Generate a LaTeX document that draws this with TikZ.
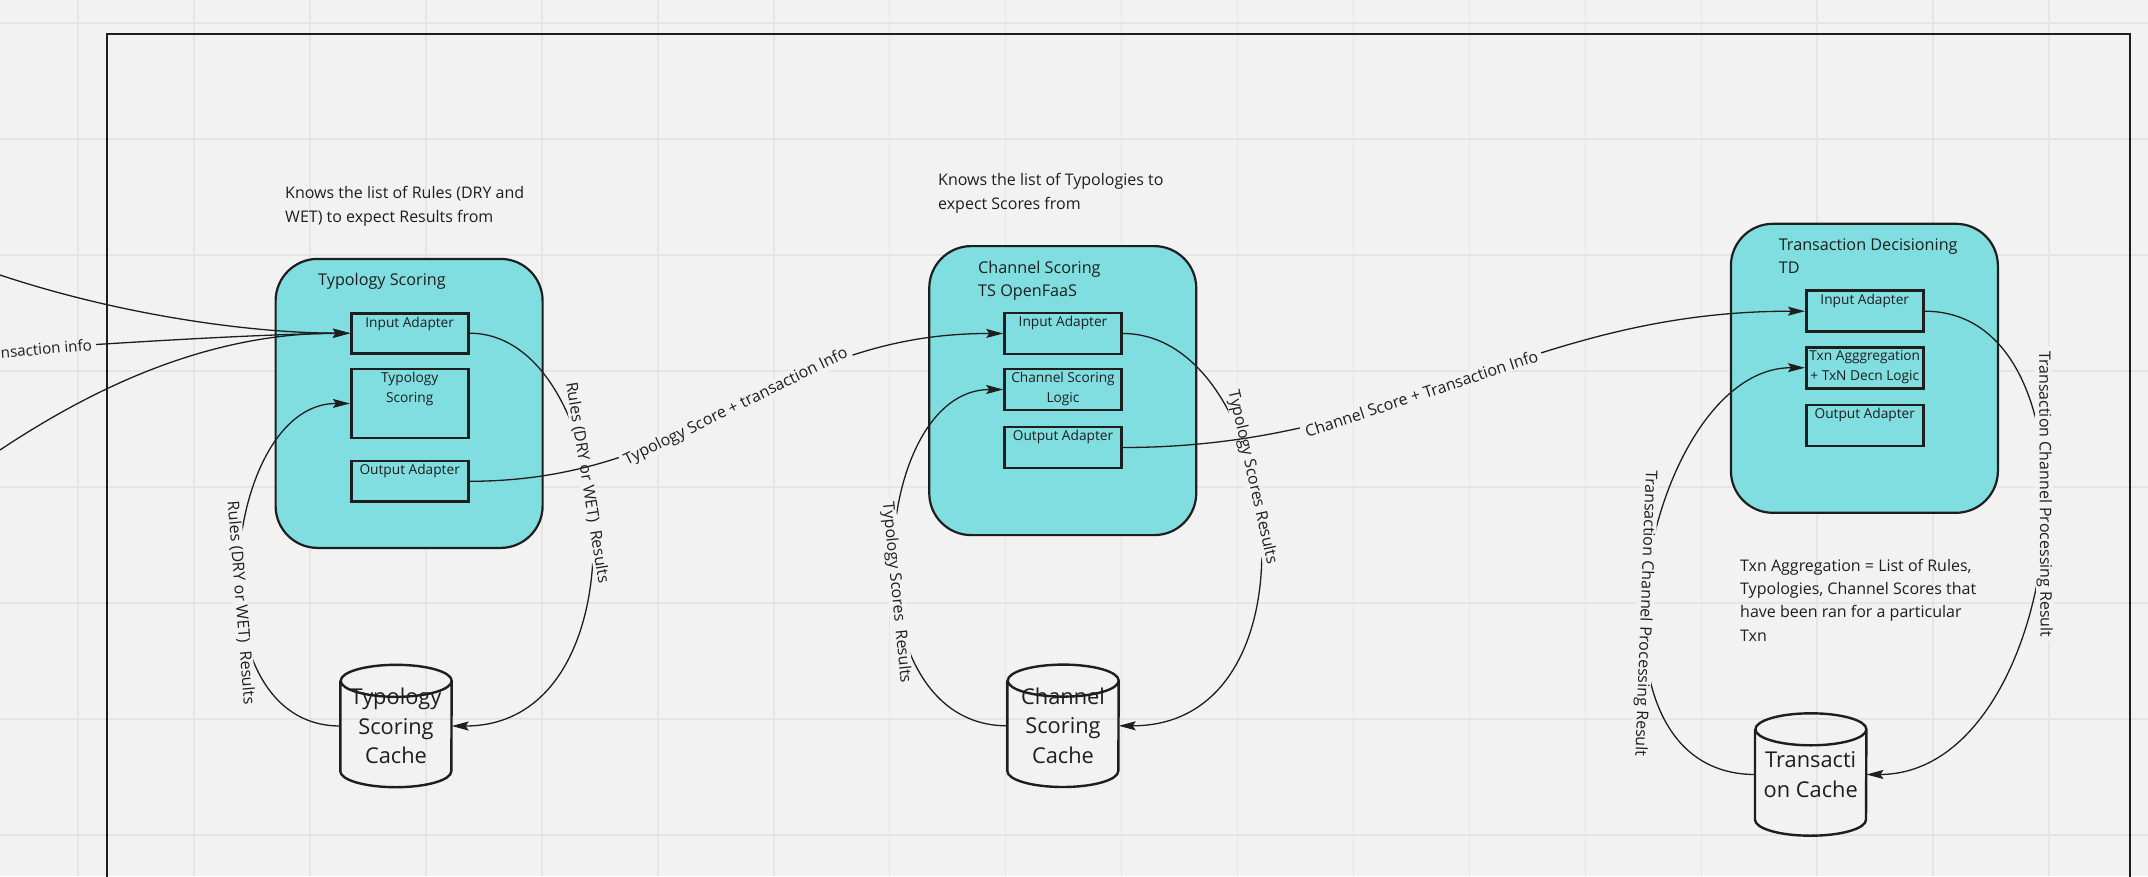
\documentclass[tikz,border=0pt]{standalone}
\usepackage{fontspec}
\setmainfont{Open Sans}
\usetikzlibrary{arrows.meta,calc}
\definecolor{bgcol}{RGB}{242,242,242}
\definecolor{gridcol}{RGB}{229,229,229}
\definecolor{boxfill}{RGB}{128,222,224}
\definecolor{ink}{RGB}{30,30,30}
\begin{document}
\begin{tikzpicture}[x=1pt,y=-1pt,
  bigbox/.style={draw=ink, line width=2.2pt, fill=boxfill, rounded corners=42pt, minimum width=267pt, minimum height=289pt, inner sep=0pt},
  inbox/.style={draw=ink, line width=2.6pt, minimum width=117pt, inner sep=0pt},
  intext/.style={font=\fontsize{13.7}{19.5}\selectfont, text=ink, align=center, inner sep=0pt, anchor=north},
  titletext/.style={font=\fontsize{16.2}{23}\selectfont, text=ink, align=left, inner sep=0pt, anchor=north west},
  notetext/.style={font=\fontsize{16}{24}\selectfont, text=ink, align=left, inner sep=0pt, anchor=north west},
  cylbox/.style={minimum width=111pt, minimum height=122pt, inner sep=0pt, align=center, font=\fontsize{21.8}{29.5}\selectfont, text=ink},
  cylline/.style={draw=ink, line width=2.4pt},
  conn/.style={draw=ink, line width=1.3pt},
  arr/.style={conn, -{Stealth[length=17pt,width=9pt,inset=3pt]}},
  rarr/.style={conn, {Stealth[length=17pt,width=9pt,inset=3pt]}-},
  lbl/.style={font=\fontsize{16}{18}\selectfont, text=ink, fill=bgcol, inner xsep=4pt, inner ysep=0.5pt, sloped, allow upside down},
]
\useasboundingbox (0,0) rectangle (2148,876);
\clip (0,0) rectangle (2148,876);
\fill[bgcol] (0,0) rectangle (2148,876);
% grid
\foreach \i in {0,...,18} \draw[gridcol, line width=1.6pt] ({78+115.95*\i},0) -- ({78+115.95*\i},876);
\foreach \j in {0,...,7} \draw[gridcol, line width=1.6pt] (0,{23+116*\j}) -- (2148,{23+116*\j});
% frame
\draw[ink, line width=2.4pt] (107,34) rectangle (2130,920);

% notes
\node[notetext] (note1) at (285,186) {Knows the list of Rules (DRY and\\WET) to expect Results from};
\node[notetext] (note2) at (938,172.6) {Knows the list of Typologies to\\expect Scores from};
\node[notetext, font=\fontsize{16}{23.4}\selectfont] (note3) at (1740,558.6) {Txn Aggregation = List of Rules,\\Typologies, Channel Scores that\\have been ran for a particular\\Txn};

% big boxes
\node[bigbox] (ts) at (409.1,403.4) {};
\node[bigbox] (cs) at (1062.75,390.6) {};
\node[bigbox] (td) at (1864.4,368.3) {};
\node[titletext] (tst) at (318,272.8) {Typology Scoring};
\node[titletext] (cst) at (978,260.5) {Channel Scoring\\TS OpenFaaS};
\node[titletext] (tdt) at (1778.6,238.1) {Transaction Decisioning\\TD};

% inner boxes
\node[inbox, minimum height=40pt] (tsin) at (409.7,333.2) {};
\node[inbox, minimum height=69pt] (tsl) at (409.7,403.5) {};
\node[inbox, minimum height=40.7pt] (tsout) at (409.7,481.3) {};
\node[inbox, minimum height=41pt] (csin) at (1063,333.5) {};
\node[inbox, minimum height=41pt] (csl) at (1063,389.5) {};
\node[inbox, minimum height=41pt] (csout) at (1063,447.5) {};
\node[inbox, minimum height=41pt] (tdin) at (1864.75,311.2) {};
\node[inbox, minimum height=41pt] (tdl) at (1864.75,367.7) {};
\node[inbox, minimum height=41pt] (tdout) at (1864.75,425.3) {};
\node[intext] (tsint) at ([yshift=-4.5pt]tsin.north) {Input Adapter};
\node[intext] (tslt) at ([yshift=-4.5pt]tsl.north) {Typology\\Scoring};
\node[intext] (tsoutt) at ([yshift=-4.5pt]tsout.north) {Output Adapter};
\node[intext] (csint) at ([yshift=-4.5pt]csin.north) {Input Adapter};
\node[intext] (cslt) at ([yshift=-4.5pt]csl.north) {Channel Scoring\\Logic};
\node[intext] (csoutt) at ([yshift=-4.5pt]csout.north) {Output Adapter};
\node[intext] (tdint) at ([yshift=-4.5pt]tdin.north) {Input Adapter};
\node[intext] (tdlt) at ([yshift=-4.5pt]tdl.north) {Txn Agggregation\\+ TxN Decn Logic};
\node[intext] (tdoutt) at ([yshift=-4.5pt]tdout.north) {Output Adapter};

% caches
\node[cylbox] (tsc) at (396,726) {Typology\\Scoring\\Cache};
\node[cylbox] (csc) at (1063,725.8) {Channel\\Scoring\\Cache};
\node[cylbox] (tdc) at (1810.7,774.5) {Transacti\\on Cache};
\foreach \c in {tsc,csc,tdc}{
  \draw[cylline] ([yshift=-16pt]\c.north west) -- ([yshift=16pt]\c.south west)
     arc[start angle=180, end angle=360, x radius=55.5pt, y radius=16pt]
     -- ([yshift=-16pt]\c.north east)
     arc[start angle=0, end angle=180, x radius=55.5pt, y radius=16pt]
     arc[start angle=180, end angle=360, x radius=55.5pt, y radius=16pt];
}

% incoming connectors
\coordinate (cin1) at (0,275);
\coordinate (cin3) at (0,450);
\node[font=\fontsize{15.2}{17}\selectfont, text=ink, inner sep=0pt, anchor=east, rotate=5] (lblin) at (92,344.5) {nsaction info};
\draw[arr] (cin1) .. controls (120,315) and (250,333) .. (tsin.west);
\draw[arr] ([xshift=4pt]lblin.east) .. controls (200,338) and (280,334) .. (tsin.west);
\draw[arr] (cin3) .. controls (120,370) and (230,333) .. (tsin.west);

% cache loops
\draw[arr] (tsin.east) .. controls (618,333) and (652,726) .. (tsc.east) node[lbl,pos=0.42]{Rules (DRY or WET)\ \ Results};
\draw[rarr] (tsl.west) .. controls (221,403) and (190,726) .. (tsc.west) node[lbl,pos=0.58]{Rules (DRY or WET)\ \ Results};
\draw[arr] (csin.east) .. controls (1282,333.5) and (1329,726) .. (csc.east) node[lbl,pos=0.41]{Typology Scores Results};
\draw[rarr] (csl.west) .. controls (869,389.5) and (847,726) .. (csc.west) node[lbl,pos=0.57]{Typology Scores\ \ Results};
\draw[arr] (tdin.east) .. controls (2114,311) and (2066,774) .. (tdc.east) node[lbl,pos=0.43]{Transaction Channel Processing Result};
\draw[rarr] (tdl.west) .. controls (1646,367.5) and (1565,774) .. (tdc.west) node[lbl,pos=0.57]{Transaction Channel Processing Result};

% stage connectors
\draw[arr] (tsout.east) .. controls (700,481) and (772,333) .. (csin.west) node[lbl,pos=0.5]{Typology Score + transaction Info};
\draw[arr] (csout.east) .. controls (1402,447.5) and (1526,311) .. (tdin.west) node[lbl,pos=0.43]{Channel Score + Transaction Info};
\end{tikzpicture}
\end{document}
